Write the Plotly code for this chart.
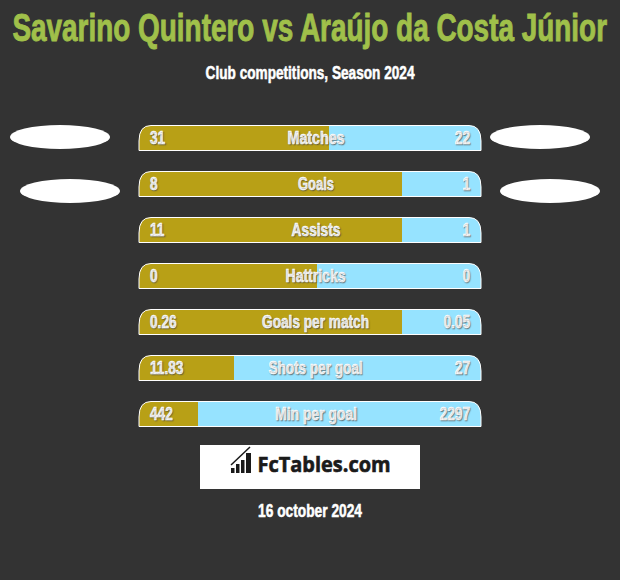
import json
import plotly.graph_objects as go

BG = "#333333"
GOLD = "#b8a016"
BLUE = "#96e3ff"
TITLE = "Savarino Quintero vs Araújo da Costa Júnior"
SUBTITLE = "Club competitions, Season 2024"
DATE = "16 october 2024"
LOGO = "FcTables.com"
CATEGORIES = ["Matches", "Goals", "Assists", "Hattricks", "Goals per match", "Shots per goal", "Min per goal"]
LEFT_LABELS = ["31", "8", "11", "0", "0.26", "11.83", "442"]
RIGHT_LABELS = ["22", "1", "1", "0", "0.05", "27", "2297"]
LEFT_SHARE = [55.6, 76.9, 76.9, 52.0, 76.9, 27.8, 17.3]
RIGHT_SHARE = [44.4, 23.1, 23.1, 48.0, 23.1, 72.2, 82.7]
CAT_WIDTHS = [57, 36, 49, 60, 107, 94, 82]

W, H = 620, 580
BAR_L, BAR_R = 139, 481
TOP, ROW, BAR_H = 115, 46, 26
FONT = "Liberation Sans"

fig = go.Figure()
for share, col in ((LEFT_SHARE, GOLD), (RIGHT_SHARE, BLUE)):
    fig.add_trace(go.Bar(y=CATEGORIES, x=share, orientation="h", marker=dict(color=col, line_width=0),
                         hoverinfo="skip", showlegend=False))

shapes, ann, spec = [], [], []
def px(x): return x / W
def py(y): return 1 - y / H

def text(x, y, s, size, color="#ffffff", anchor="center", family=FONT, shadow=None, width=None, factor=None, stroke=0.55):
    ann.append(dict(xref="paper", yref="paper", x=px(x), y=py(y), text=s, showarrow=False,
                    xanchor=anchor, yanchor="middle", align="center",
                    font=dict(family=family, size=size, color=color, weight="bold", shadow=shadow or "none")))
    spec.append(dict(w=width, f=factor, a=anchor, s=stroke, c=color))

SHADOW = "1px 1px 1px rgba(70,70,70,0.6)"
R = 12
for i, cat in enumerate(CATEGORIES):
    t = TOP + ROW * i + 10
    b = t + BAR_H
    l, r = BAR_L, BAR_R
    ft, fb = t + 0.5, b - 0.5
    shapes.append(dict(type="path", xref="paper", yref="paper", line_width=0, fillcolor=BG,
                       path=f"M {px(l-1)} {py(t-1)} L {px(l+R)} {py(t-1)} L {px(l+R)} {py(ft)} Q {px(l)} {py(ft)} {px(l)} {py(t+R+4)} L {px(l-1)} {py(t+R+4)} Z"))
    shapes.append(dict(type="path", xref="paper", yref="paper", line_width=0, fillcolor=BG,
                       path=f"M {px(r+1)} {py(t-1)} L {px(r-R)} {py(t-1)} L {px(r-R)} {py(ft)} Q {px(r)} {py(ft)} {px(r)} {py(t+R+4)} L {px(r+1)} {py(t+R+4)} Z"))
    shapes.append(dict(type="path", xref="paper", yref="paper", line=dict(color="#ffffff", width=1),
                       path=f"M {px(l)} {py(fb)} L {px(l)} {py(t+R+4)} Q {px(l)} {py(ft)} {px(l+R)} {py(ft)} L {px(r-R)} {py(ft)} Q {px(r)} {py(ft)} {px(r)} {py(t+R+4)} L {px(r)} {py(fb)} Z"))
    c = (t + b) / 2
    text(148, c, LEFT_LABELS[i], 18, anchor="left", shadow=SHADOW, factor=0.76)
    text(471.5, c, RIGHT_LABELS[i], 18, anchor="right", shadow=SHADOW, factor=0.76)
    text(315.5, c, cat, 18, shadow=SHADOW, width=CAT_WIDTHS[i])

for x0, y0 in ((10, 125), (490, 125), (20, 179), (500, 179)):
    shapes.append(dict(type="circle", xref="paper", yref="paper", fillcolor="#ffffff", line_width=0,
                       x0=px(x0), x1=px(x0 + 100), y0=py(y0), y1=py(y0 + 24)))

shapes.append(dict(type="rect", xref="paper", yref="paper", fillcolor="#ffffff", line_width=0,
                   x0=px(200), x1=px(420), y0=py(445), y1=py(489)))
for x0, x1, y0 in ((231, 234.5, 468), (236, 239.5, 464), (241, 244.5, 460), (246, 251, 453)):
    shapes.append(dict(type="rect", xref="paper", yref="paper", fillcolor="#1a1a1a", line_width=0,
                       x0=px(x0), x1=px(x1), y0=py(y0), y1=py(473)))
shapes.append(dict(type="path", xref="paper", yref="paper", line=dict(color="#1a1a1a", width=1.5),
                   path=f"M {px(231)} {py(465)} L {px(250)} {py(447)}"))

text(309.5, 27.5, TITLE, 38, color="#a0c04a", width=595, stroke=0.9)
text(309.5, 73, SUBTITLE, 18, width=209)
text(309.5, 511, DATE, 18, width=104)
text(323.5, 464, LOGO, 21, color="#1a1a1a", family="Open Sans", width=133, stroke=0.6)

fig.update_layout(
    width=W, height=H, margin=dict(l=0, r=0, t=0, b=0), paper_bgcolor=BG, plot_bgcolor=BG,
    barmode="stack", bargap=1 - BAR_H / ROW, shapes=shapes, annotations=ann,
    xaxis=dict(domain=[px(BAR_L), px(BAR_R)], range=[0, 100], visible=False, fixedrange=True),
    yaxis=dict(domain=[py(TOP + ROW * 7), py(TOP)], autorange="reversed", visible=False, fixedrange=True,
               categoryorder="array", categoryarray=CATEGORIES),
)

POST = """
document.body.style.margin = '0';
document.documentElement.style.background = '%s';
var spec = %s;
document.querySelectorAll('.annotation').forEach(function (g) {
  var sp = spec[+g.getAttribute('data-index')];
  var t = g.querySelector('text');
  if (!sp || !t) return;
  var w0 = t.getComputedTextLength();
  var w = sp.w || w0 * sp.f;
  var sx = w / w0;
  var cx = parseFloat(t.getAttribute('x') || 0);
  var dx = sp.a === 'left' ? (w - w0) / 2 : sp.a === 'right' ? (w0 - w) / 2 : 0;
  t.setAttribute('transform', 'translate(' + (cx + dx) + ' 0) scale(' + sx + ' 1) translate(' + (-cx) + ' 0)');
  t.style.stroke = sp.c;
  t.style.strokeWidth = sp.s + 'px';
});
""" % (BG, json.dumps(spec))
fig.write_html("out.html", config={"displayModeBar": False}, post_script=POST)
